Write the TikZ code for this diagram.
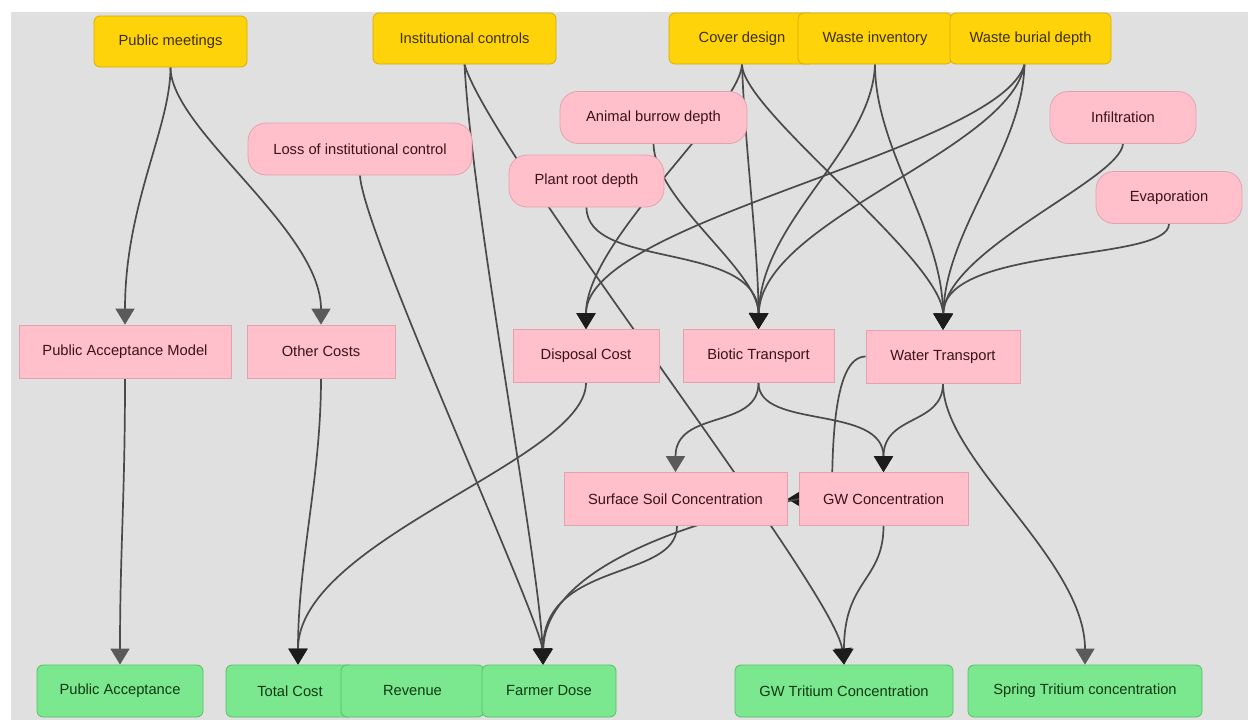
\documentclass[tikz,border=0pt]{standalone}
\usepackage{fontspec}
\setmainfont{Liberation Sans}
\usetikzlibrary{arrows.meta}
\pgfdeclarelayer{back}
\pgfdeclarelayer{wires}
\pgfsetlayers{back,wires,main}

\definecolor{canvas}{HTML}{E0E0E0}
\definecolor{goldfill}{HTML}{FFD30A}
\definecolor{golddraw}{HTML}{D9AE00}
\definecolor{goldtext}{HTML}{3B3000}
\definecolor{pinkfill}{HTML}{FFC0CB}
\definecolor{pinkdraw}{HTML}{E3A3AE}
\definecolor{pinktext}{HTML}{3A1218}
\definecolor{greenfill}{HTML}{7BE78E}
\definecolor{greendraw}{HTML}{58BE6A}
\definecolor{greentext}{HTML}{0F3A14}
\definecolor{wire}{HTML}{4A4A4A}
\definecolor{tipdark}{HTML}{1C1C1C}
\definecolor{tiplight}{HTML}{5A5A5A}

\begin{document}
\begin{tikzpicture}[x=1pt,y=-1pt,
  every node/.style={font=\fontsize{14.7}{17}\selectfont, inner sep=0pt, line width=0.8pt},
  input/.style={draw=golddraw, fill=goldfill, text=goldtext, rounded corners=6pt, minimum height=51pt},
  chance/.style={draw=pinkdraw, fill=pinkfill, text=pinktext, rounded corners=18pt, minimum height=52pt},
  calc/.style={draw=pinkdraw, fill=pinkfill, text=pinktext, minimum height=53pt},
  output/.style={draw=greendraw, fill=greenfill, text=greentext, rounded corners=6pt, minimum height=52pt},
  link/.style={draw=wire, line width=1.7pt},
  todark/.style={link, -{Triangle[width=19pt,length=16pt,color=tipdark]}},
  tolight/.style={link, -{Triangle[width=19pt,length=16pt,color=tiplight]}},
]
\useasboundingbox (0,0) rectangle (1248,720);
\begin{pgfonlayer}{back}
  \fill[white] (0,0) rectangle (1248,720);
  \fill[canvas] (11,12) rectangle (1248,720);
\end{pgfonlayer}

% decision inputs
\node[input, minimum width=153pt] (pm) at (170.5,41.5) {Public meetings};
\node[input, minimum width=183pt] (ic) at (464.5,38.5) {Institutional controls};
\node[input, minimum width=146pt] (cd) at (742,38.5) {Cover design};
\node[input, minimum width=154pt] (wi) at (875,38.5) {Waste inventory};
\node[input, minimum width=161pt] (wb) at (1030.5,38.5) {Waste burial depth};

% uncertain parameters
\node[chance, minimum width=224pt] (lic) at (360,149) {Loss of institutional control};
\node[chance, minimum width=187pt] (abd) at (653.5,117.5) {Animal burrow depth};
\node[chance, minimum width=155pt] (prd) at (586.5,181) {Plant root depth};
\node[chance, minimum width=146pt] (inf) at (1123,117.5) {Infiltration};
\node[chance, minimum width=146pt] (eva) at (1169,197.5) {Evaporation};

% sub-models
\node[calc, minimum width=212pt] (pam) at (125,351.5) {Public Acceptance Model};
\node[calc, minimum width=148pt] (oc) at (321,351.5) {Other Costs};
\node[calc, minimum width=146pt] (dc) at (586,356) {Disposal Cost};
\node[calc, minimum width=151pt] (bt) at (758.5,356) {Biotic Transport};
\node[calc, minimum width=154pt] (wt) at (943,356.5) {Water Transport};
\node[calc, minimum width=223pt] (ssc) at (675.5,499) {Surface Soil Concentration};
\node[calc, minimum width=169pt] (gwc) at (883.5,499) {GW Concentration};

% results
\node[output, minimum width=166pt] (pa) at (120,691) {Public Acceptance};
\node[output, minimum width=128pt] (tc) at (290,691) {Total Cost};
\node[output, minimum width=143pt] (rev) at (412.5,691) {Revenue};
\node[output, minimum width=134pt] (fd) at (549,691) {Farmer Dose};
\node[output, minimum width=218pt] (gwt) at (844,691) {GW Tritium Concentration};
\node[output, minimum width=234pt] (stc) at (1085,691) {Spring Tritium concentration};

% edge ports
\coordinate (wbout) at ([xshift=-6pt]wb.south);
\coordinate (tcin) at ([xshift=8pt]tc.north);
\coordinate (fdin) at ([xshift=-6pt]fd.north);
\coordinate (sscout) at ([xshift=1.5pt]ssc.south);

\begin{pgfonlayer}{wires}
  % public acceptance branch
  \draw[tolight] (pm.south) .. controls +(0,60) and +(0,-120) .. (pam.north);
  \draw[tolight] (pm.south) .. controls +(0,62) and +(0,-95) .. (oc.north);
  \draw[tolight] (pam.south) .. controls +(0,120) and +(0,-115) .. (pa.north);
  % costs
  \draw[todark] (oc.south) .. controls +(0,100) and +(0,-105) .. (tcin);
  \draw[todark] (dc.south) .. controls +(0,77) and +(0,-125) .. (tcin);
  % institutional control
  \draw[todark] (lic.south) .. controls +(2,55) and +(-2,-45) .. (fdin);
  \draw[todark] (ic.south) .. controls +(8,150) and +(-3,-100) .. (fdin);
  \draw[todark] (ic.south) .. controls +(25,86) and +(-9,-75) .. (gwt.north);
  % cover design
  \draw[todark] (cd.south) .. controls +(-2,46) and +(0,-89) .. (dc.north);
  \draw[todark] (cd.south) .. controls +(3,86) and +(0,-79) .. (bt.north);
  \draw[todark] (cd.south) .. controls +(0,46) and +(0,-70) .. (wt.north);
  % biotic pathway parameters
  \draw[todark] (abd.south) .. controls +(1,57) and +(0,-59) .. (bt.north);
  \draw[todark] (prd.south) .. controls +(0,63) and +(0,-89) .. (bt.north);
  % waste inventory
  \draw[todark] (wi.south) .. controls +(-3,86) and +(2,-109) .. (bt.north);
  \draw[todark] (wi.south) .. controls +(0,86) and +(0,-100) .. (wt.north);
  % waste burial depth
  \draw[todark] (wbout) .. controls +(-24,86) and +(0,-109) .. (dc.north);
  \draw[todark] (wbout) .. controls +(-14,86) and +(2,-109) .. (bt.north);
  \draw[todark] (wbout) .. controls +(-2,86) and +(2,-100) .. (wt.north);
  % water balance
  \draw[todark] (inf.south) .. controls +(-3,36) and +(2,-80) .. (wt.north);
  \draw[todark] (eva.south) .. controls +(0,39) and +(0,-85) .. (wt.north);
  % transport to concentrations
  \draw[tolight] (bt.south) .. controls +(0,47) and +(0,-63) .. (ssc.north);
  \draw[todark] (bt.south) .. controls +(0,47) and +(0,-68) .. (gwc.north);
  \draw[todark] (wt.south) .. controls +(0,42) and +(0,-58) .. (gwc.north);
  \draw[tolight] (wt.south) .. controls +(0,77) and +(0,-105) .. (stc.north);
  \draw[todark] (wt.west) .. controls +(-34,0) and +(0,-56) .. ([xshift=-51.5pt,yshift=-13pt]gwc.center)
                          .. controls +(0,13) and +(22,0) .. (ssc.east);
  % concentrations to results
  \draw[todark] (gwc.south) .. controls +(0,55) and +(0,-85) .. (gwt.north);
  \draw[todark] (sscout) .. controls +(0,55) and +(0,-105) .. (fdin);
  \draw[todark] (gwc.west) .. controls +(-79,16) and +(2,-105) .. (fdin);
\end{pgfonlayer}
\end{tikzpicture}
\end{document}
